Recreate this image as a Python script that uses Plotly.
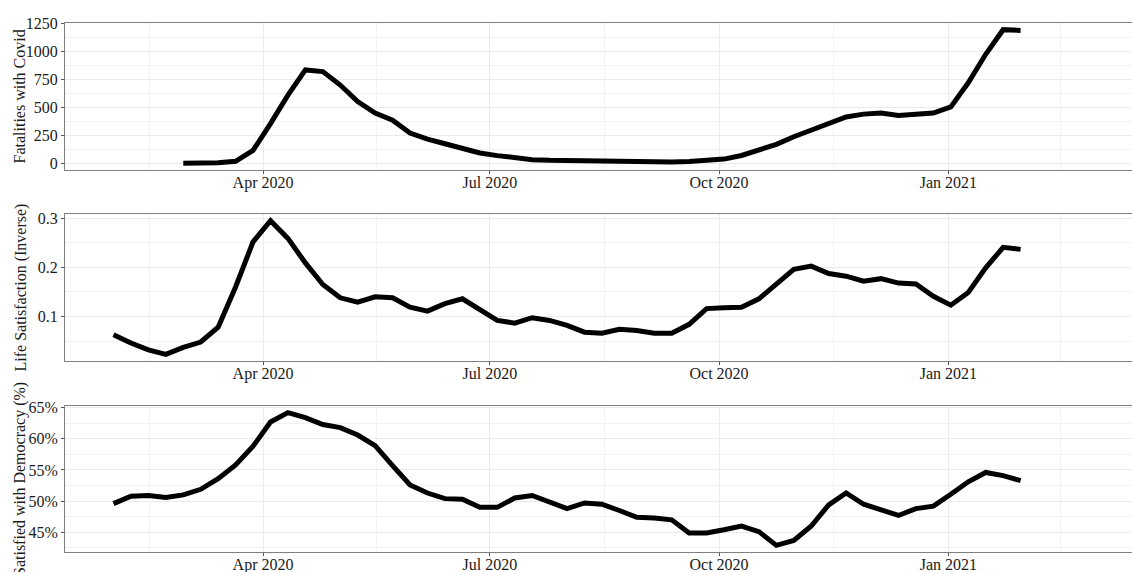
import pandas as pd
import plotly.graph_objects as go

# Weekly observation dates
week_start = "2020-02-01"
n_weeks = 53
dates = pd.date_range(week_start, periods=n_weeks, freq="7D")

# Weekly fatalities with Covid (no reports for the first four weeks)
fatalities = [None, None, None, None,
              0, 2, 5, 18, 115,
              355, 610, 835, 820, 700,
              553, 449, 385, 271, 217,
              175, 137, 93, 69, 51,
              33, 27, 24, 18, 13,
              10, 10, 10, 12, 16,
              22, 38, 70, 115, 170,
              238, 300, 362, 415, 440,
              450, 428, 440, 450, 505,
              720, 975, 1195, 1188]

# Life satisfaction (inverse scale)
life_satisfaction = [0.063, 0.046, 0.032, 0.023, 0.037,
                     0.048, 0.078, 0.160, 0.252, 0.295,
                     0.259, 0.209, 0.165, 0.138, 0.129,
                     0.140, 0.138, 0.119, 0.111, 0.126,
                     0.136, 0.114, 0.092, 0.0865, 0.0975,
                     0.092, 0.082, 0.068, 0.066, 0.074,
                     0.0716, 0.066, 0.066, 0.084, 0.116,
                     0.118, 0.119, 0.136, 0.167, 0.196,
                     0.2025, 0.1875, 0.182, 0.172, 0.177,
                     0.168, 0.166, 0.141, 0.123, 0.149,
                     0.199, 0.2407, 0.2366]

# Share satisfied with democracy (%)
democracy = [49.6, 50.8, 50.9, 50.6, 51.0,
             51.9, 53.6, 55.8, 58.8, 62.7,
             64.2, 63.4, 62.3, 61.8, 60.6,
             58.9, 55.7, 52.6, 51.3, 50.4,
             50.3, 49.0, 49.0, 50.5, 50.9,
             49.8, 48.8, 49.7, 49.5, 48.5,
             47.4, 47.3, 47.0, 44.9, 44.9,
             45.4, 46.0, 45.1, 42.9, 43.7,
             46.0, 49.4, 51.3, 49.5, 48.6,
             47.7, 48.8, 49.2, 51.1, 53.1,
             54.6, 54.1, 53.3]

panel_titles = ["Fatalities with Covid", "Life Satisfaction (Inverse)",
                "Satisfied with Democracy (%)"]
series = [fatalities, life_satisfaction, democracy]

fatal_ticks = [0, 250, 500, 750, 1000, 1250]
life_ticks = [0.1, 0.2, 0.3]
demo_ticks = [45, 50, 55, 60, 65]

x_range = ["2020-01-12 13:00", "2021-03-15 17:00"]
x_minor = ["2020-02-15 12:00", "2020-05-16 12:00", "2020-08-16",
           "2020-11-16", "2021-02-15"]

domains = [[0.7221, 1.0], [0.3611, 0.6389], [0.0, 0.2760]]

FONT = "'Liberation Serif', 'Times New Roman', Times, serif"
TEXT = "#1a1a1a"
GRID = "#EBEBEB"
MINOR = "#F2F2F2"
BORDER = "#7F7F7F"


def padded(vals):
    v = [x for x in vals if x is not None]
    lo, hi = min(v), max(v)
    pad = (hi - lo) * 0.05
    return [lo - pad, hi + pad]


def midpoints(ticks):
    step = ticks[1] - ticks[0]
    return [ticks[0] - step / 2] + [t + step / 2 for t in ticks]


fig = go.Figure()
layout = dict(
    width=1133, height=572,
    margin=dict(l=65, r=1, t=23, b=20, autoexpand=False),
    paper_bgcolor="white", plot_bgcolor="white",
    showlegend=False,
    font=dict(family=FONT, size=16, color=TEXT),
)

y_axis_styles = [
    dict(tickvals=fatal_ticks, ticktext=[str(t) for t in fatal_ticks],
         minor=dict(tickmode="array", tickvals=midpoints(fatal_ticks),
                    showgrid=True, gridcolor=MINOR)),
    dict(tickvals=life_ticks, ticktext=[f"{t:.1f}" for t in life_ticks],
         minor=dict(tickmode="array", tickvals=midpoints(life_ticks),
                    showgrid=True, gridcolor=MINOR)),
    dict(tickvals=demo_ticks, ticktext=[f"{t}%" for t in demo_ticks],
         minor=dict(tickmode="array", tickvals=midpoints(demo_ticks),
                    showgrid=True, gridcolor=MINOR)),
]

for i, vals in enumerate(series):
    n = "" if i == 0 else str(i + 1)
    fig.add_trace(go.Scatter(
        x=dates, y=vals, mode="lines",
        line=dict(color="black", width=5),
        xaxis="x" + n, yaxis="y" + n,
        connectgaps=False, hoverinfo="skip",
    ))
    layout["xaxis" + n] = dict(
        domain=[0, 1], anchor="y" + n, type="date", range=x_range,
        tick0="2020-01-01", dtick="M3", tickformat="%b %Y",
        showgrid=True, gridcolor=GRID, gridwidth=1,
        minor=dict(tickmode="array", tickvals=x_minor, showgrid=True,
                   gridcolor=MINOR),
        ticks="outside", ticklen=3, tickcolor="#555", tickwidth=1,
        ticklabelstandoff=-5, automargin=False,
        showline=True, linecolor=BORDER, linewidth=1, mirror=True,
        zeroline=False, tickfont=dict(family=FONT, size=16, color=TEXT),
    )
    ya = dict(
        domain=domains[i], anchor="x" + n, range=padded(vals),
        tickmode="array", automargin=False,
        showgrid=True, gridcolor=GRID, gridwidth=1,
        ticks="outside", ticklen=3, tickcolor="#555", tickwidth=1,
        showline=True, linecolor=BORDER, linewidth=1, mirror=False,
        zeroline=False, tickfont=dict(family=FONT, size=16, color=TEXT),
    )
    ya.update(y_axis_styles[i])
    layout["yaxis" + n] = ya

annotations = []
for i, title in enumerate(panel_titles):
    annotations.append(dict(
        text=title, textangle=-90, xref="paper", yref="paper",
        x=0, xshift=-45, xanchor="center",
        y=(domains[i][0] + domains[i][1]) / 2, yanchor="middle",
        showarrow=False, font=dict(family=FONT, size=16, color=TEXT),
    ))
layout["annotations"] = annotations

fig.update_layout(**layout)
fig.write_html("out.html")
